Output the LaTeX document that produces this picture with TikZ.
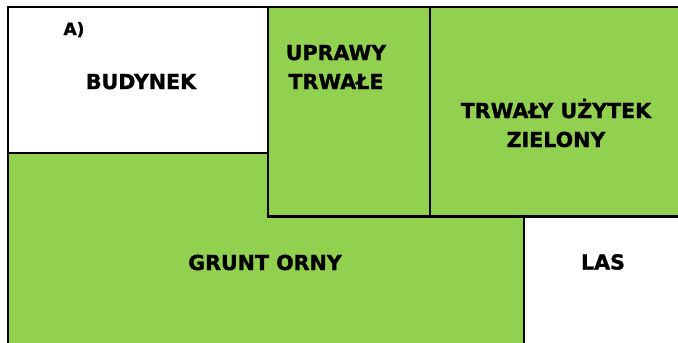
\documentclass[tikz,border=0pt]{standalone}
\usepackage{fontspec}
\setmainfont{DejaVu Sans}[BoldFeatures={FakeBold=1.2}]
\usetikzlibrary{positioning}
\definecolor{pole}{HTML}{92D050}

\begin{document}
\begin{tikzpicture}[x=1pt, y=-1pt, line width=2.8pt,
  lbl/.style={font=\bfseries\fontsize{20.6}{29}\selectfont, align=center, anchor=base, inner sep=0pt}]
  \useasboundingbox (0,0) rectangle (678,343);
  \clip (0,0) rectangle (678,343);
  % areas
  \fill[pole] (8,7) rectangle (690,350);
  \fill[white] (8,7) rectangle (268,153);
  \fill[white] (524,216.5) rectangle (690,350);
  % borders
  \draw (8,350) -- (8,7) -- (690,7);
  \draw (8,153) -- (268,153);
  \draw (268,7) -- (268,216.5) -- (690,216.5);
  \draw (430,7) -- (430,216.5);
  \draw (524,216.5) -- (524,350);
  % labels
  \node[lbl, font=\bfseries\fontsize{17}{20}\selectfont] (tag) at (74,35) {A)};
  \node[lbl] (budynek) at (141,89)  {BUDYNEK};
  \node[lbl] (uprawy)  at (336,89)  {UPRAWY\\TRWAŁE};
  \node[lbl] (tuz)     at (556,147) {TRWAŁY UŻYTEK\\ZIELONY};
  \node[lbl] (grunt)   at (265,270) {GRUNT ORNY};
  \node[lbl] (las)     at (603,269.5) {LAS};
\end{tikzpicture}
\end{document}
